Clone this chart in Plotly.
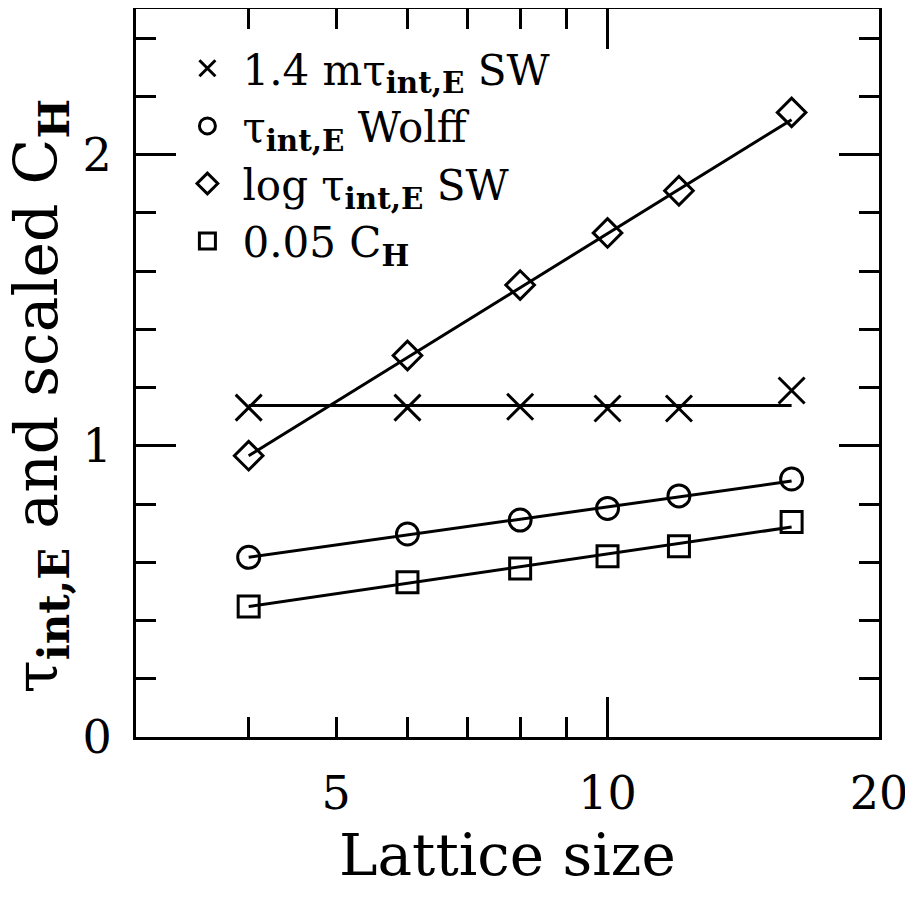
import plotly.graph_objects as go

# ---- data ----
lattice_size = [4, 6, 8, 10, 12, 16]
sw_m_tau = [1.131, 1.131, 1.134, 1.128, 1.128, 1.19]      # 1.4 m tau_int,E SW
wolff_tau = [0.617, 0.697, 0.745, 0.785, 0.828, 0.886]    # tau_int,E Wolff
log_tau_sw = [0.966, 1.31, 1.552, 1.731, 1.876, 2.145]    # log tau_int,E SW
scaled_ch = [0.448, 0.531, 0.579, 0.621, 0.655, 0.738]    # 0.05 C_H

fit_x = [4, 16]
fit_sw = [1.138, 1.138]
fit_wolff = [0.617, 0.879]
fit_log = [0.966, 2.12]
fit_ch = [0.448, 0.721]

x_major = [5, 10, 20]
x_labels = ["5", "10", "20"]
x_minor = [4, 6, 7, 8, 9]
x_long = [10]
y_major = [0, 1, 2]

FONT = "DejaVu Serif"
BLACK = "black"

fig = go.Figure()

# fit lines
for fy in (fit_sw, fit_wolff, fit_log, fit_ch):
    fig.add_trace(go.Scatter(x=fit_x, y=fy, mode="lines",
                             line=dict(color=BLACK, width=3),
                             showlegend=False, hoverinfo="skip"))

series = [
    (sw_m_tau, "x-thin-open", 26, "1.4 mτ<sub><b>int,E</b></sub> SW"),
    (wolff_tau, "circle-open", 22, "τ<sub><b>int,E</b></sub> Wolff"),
    (log_tau_sw, "diamond-open", 22, "log τ<sub><b>int,E</b></sub> SW"),
    (scaled_ch, "square-open", 21, "0.05 C<sub><b>H</b></sub>"),
]
for ys, sym, sz, name in series:
    fig.add_trace(go.Scatter(x=lattice_size, y=ys, mode="markers", name=name,
                             marker=dict(symbol=sym, size=sz, color=BLACK,
                                         line=dict(color=BLACK, width=3))))

# overlay axis for the single long tick at 10
fig.add_trace(go.Scatter(x=[], y=[], xaxis="x2", showlegend=False))

fig.update_layout(
    width=905, height=890,
    margin=dict(l=128, r=34, t=1, b=161, autoexpand=False),
    paper_bgcolor="white", plot_bgcolor="white",
    font=dict(family=FONT, color=BLACK),
    showlegend=True,
    legend=dict(x=0.049, y=0.965, xanchor="left", yanchor="top",
                bgcolor="rgba(0,0,0,0)", font=dict(size=42, family=FONT),
                itemwidth=60, tracegroupgap=0),
    xaxis=dict(type="log", range=[0.47712, 1.30103],
               tickmode="array", tickvals=x_major, ticktext=x_labels,
               ticks="inside", ticklen=20, tickwidth=2.5, tickcolor=BLACK,
               minor=dict(tickmode="array", tickvals=x_minor, ticks="inside",
                          ticklen=20, tickwidth=2.5, tickcolor=BLACK, showgrid=False),
               showline=True, linecolor=BLACK, linewidth=3, mirror="ticks",
               showgrid=False, zeroline=False,
               tickfont=dict(size=46, family=FONT), ticklabelstandoff=14),
    xaxis2=dict(type="log", range=[0.47712, 1.30103], overlaying="x", anchor="y",
                tickmode="array", tickvals=x_long, showticklabels=False,
                ticks="inside", ticklen=40, tickwidth=2.5, tickcolor=BLACK,
                mirror="ticks", showline=False, showgrid=False, zeroline=False),
    yaxis=dict(range=[0, 2.5], tickmode="array", tickvals=y_major,
               ticks="inside", ticklen=40, tickwidth=2.5, tickcolor=BLACK,
               minor=dict(dtick=0.2, tick0=0, ticks="inside", ticklen=20,
                          tickwidth=2.5, tickcolor=BLACK, showgrid=False),
               showline=True, linecolor=BLACK, linewidth=3, mirror="ticks",
               showgrid=False, zeroline=False,
               tickfont=dict(size=46, family=FONT), ticklabelstandoff=12),
    annotations=[
        dict(text="Lattice size", xref="paper", yref="paper", x=0.5, y=-0.162,
             xanchor="center", yanchor="middle", showarrow=False,
             font=dict(size=58, family=FONT)),
        dict(text="τ<sub><b>int,E</b></sub> and scaled C<sub><b>H</b></sub>",
             xref="paper", yref="paper", x=-0.129, y=0.468, textangle=-90,
             xanchor="center", yanchor="middle", showarrow=False,
             font=dict(size=60, family=FONT)),
    ],
)

fig.write_html("out.html")
